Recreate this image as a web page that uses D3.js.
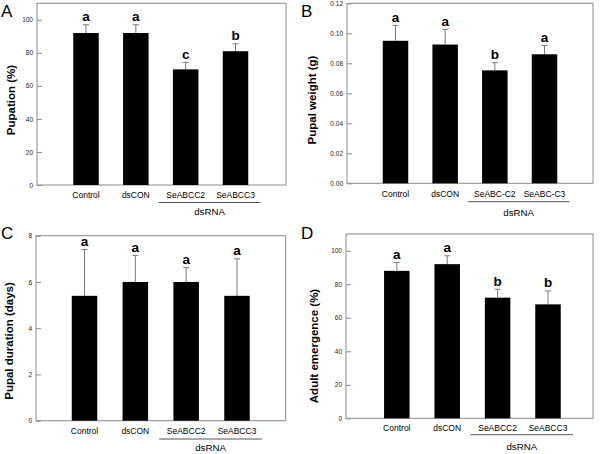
<!DOCTYPE html>
<html><head><meta charset="utf-8">
<script src="https://cdn.jsdelivr.net/npm/d3@7"></script>
<style>body{margin:0;background:#fff}svg{display:block}text{font-family:"Liberation Sans",Arial,sans-serif}</style>
</head><body>
<script>
// ---- data ----
const categoriesA = ["Control","dsCON","SeABCC2","SeABCC3"];
const valuesA = [92, 92, 70, 81];
const errorsA = [5, 5, 4.3, 4.5];
const lettersA = ["a","a","c","b"];
const ticksA = [0,20,40,60,80,100];

const categoriesB = ["Control","dsCON","SeABC-C2","SeABC-C3"];
const valuesB = [0.095, 0.0925, 0.0753, 0.086];
const errorsB = [0.0103, 0.0102, 0.0051, 0.0059];
const lettersB = ["a","a","b","a"];
const ticksB = [0,0.02,0.04,0.06,0.08,0.10,0.12];

const categoriesC = ["Control","dsCON","SeABCC2","SeABCC3"];
const valuesC = [5.4, 6.0, 6.0, 5.4];
const errorsC = [2.0, 1.15, 0.62, 1.6];
const lettersC = ["a","a","a","a"];
const ticksC = [0,2,4,6,8];

const categoriesD = ["Control","dsCON","SeABCC2","SeABCC3"];
const valuesD = [88, 92, 72, 68];
const errorsD = [5, 5, 5, 8];
const lettersD = ["a","a","b","b"];
const ticksD = [0,20,40,60,80,100];

const panels = [
  {tag:"A", ylabel:"Pupation (%)", cats:categoriesA, vals:valuesA, errs:errorsA, lets:lettersA, ticks:ticksA, ymax:110, fmt:d3.format("d"),
   L:37, T:3.3, R:286, B:185, c0:49, c1:198.5, labX:15, labY:100, tagX:1, tagY:17, xlabY:198, brY:202.5, dsY:215},
  {tag:"B", ylabel:"Pupal weight (g)", cats:categoriesB, vals:valuesB, errs:errorsB, lets:lettersB, ticks:ticksB, ymax:0.12, fmt:d3.format(".2f"),
   L:347, T:3.3, R:593, B:183.3, c0:48.5, c1:197.5, labX:316, labY:100, tagX:301, tagY:17, xlabY:197, brY:201.7, dsY:216},
  {tag:"C", ylabel:"Pupal duration (days)", cats:categoriesC, vals:valuesC, errs:errorsC, lets:lettersC, ticks:ticksC, ymax:8, fmt:d3.format("d"),
   L:36, T:235.7, R:285.7, B:420.7, c0:48.5, c1:201, labX:13, labY:341, tagX:1, tagY:239, xlabY:434, brY:439, dsY:451},
  {tag:"D", ylabel:"Adult emergence (%)", cats:categoriesD, vals:valuesD, errs:errorsD, lets:lettersD, ticks:ticksD, ymax:110, fmt:d3.format("d"),
   L:346, T:234, R:593, B:418.3, c0:50.8, c1:202, labX:318, labY:346, tagX:301, tagY:239, xlabY:431, brY:434.7, dsY:450}
];

const svg = d3.select("body").append("svg").attr("width",600).attr("height",454);
const frameColor = "#8a8a8a", errColor = "#7a7a7a";
const barW = 25.5;

panels.forEach(p => {
  const g = svg.append("g");
  const y = d3.scaleLinear().domain([0,p.ymax]).range([p.B,p.T]);
  const x = d3.scalePoint().domain(p.cats).range([p.L+p.c0, p.L+p.c1]).padding(0);

  // frame
  g.append("rect").attr("x",p.L).attr("y",p.T).attr("width",p.R-p.L).attr("height",p.B-p.T)
    .attr("fill","none").attr("stroke",frameColor).attr("stroke-width",1);

  // y axis (ticks inward)
  const ax = g.append("g").attr("transform",`translate(${p.L},0)`)
    .call(d3.axisRight(y).tickValues(p.ticks).tickFormat(p.fmt).tickSize(5));
  ax.select(".domain").remove();
  ax.selectAll(".tick line").attr("stroke",frameColor);
  ax.selectAll(".tick text").attr("text-anchor","end").attr("x",-4)
    .attr("font-size",6.5).attr("fill","#222").style("font-family","'Liberation Sans',Arial,sans-serif");

  const data = p.cats.map((c,i)=>({c, v:p.vals[i], e:p.errs[i], l:p.lets[i]}));

  // error bars
  g.selectAll(null).data(data).join("line")
    .attr("x1",d=>x(d.c)).attr("x2",d=>x(d.c))
    .attr("y1",d=>y(d.v)).attr("y2",d=>y(d.v+d.e))
    .attr("stroke",errColor).attr("stroke-width",1);
  g.selectAll(null).data(data).join("line")
    .attr("x1",d=>x(d.c)-3).attr("x2",d=>x(d.c)+3)
    .attr("y1",d=>y(d.v+d.e)).attr("y2",d=>y(d.v+d.e))
    .attr("stroke",errColor).attr("stroke-width",1);

  // bars
  g.selectAll(null).data(data).join("rect")
    .attr("x",d=>x(d.c)-barW/2).attr("width",barW)
    .attr("y",d=>y(d.v)).attr("height",d=>y(0)-y(d.v))
    .attr("fill","#000");

  // significance letters
  g.selectAll(null).data(data).join("text")
    .attr("x",d=>x(d.c)).attr("y",d=>y(d.v+d.e)-3.5)
    .attr("text-anchor","middle").attr("font-size",13.5).attr("font-weight","bold").attr("fill","#000")
    .text(d=>d.l);

  // x labels
  g.selectAll(null).data(data).join("text")
    .attr("x",d=>x(d.c)).attr("y",p.xlabY)
    .attr("text-anchor","middle").attr("font-size",8.5).attr("fill","#000")
    .text(d=>d.c);

  // dsRNA bracket
  const bx0 = x(p.cats[2]) - 27, bx1 = x(p.cats[3]) + 25;
  g.append("line").attr("x1",bx0).attr("x2",bx1).attr("y1",p.brY).attr("y2",p.brY)
    .attr("stroke","#555").attr("stroke-width",1);
  g.append("text").attr("x",(bx0+bx1)/2).attr("y",p.dsY).attr("text-anchor","middle")
    .attr("font-size",9.7).attr("fill","#000").text("dsRNA");

  // y label
  g.append("text").attr("transform",`translate(${p.labX},${p.labY}) rotate(-90)`)
    .attr("text-anchor","middle").attr("font-size",11.5).attr("font-weight","bold").attr("fill","#000")
    .text(p.ylabel);

  // panel tag
  g.append("text").attr("x",p.tagX).attr("y",p.tagY).attr("font-size",17).attr("fill","#000").text(p.tag);
});
</script>
</body></html>
